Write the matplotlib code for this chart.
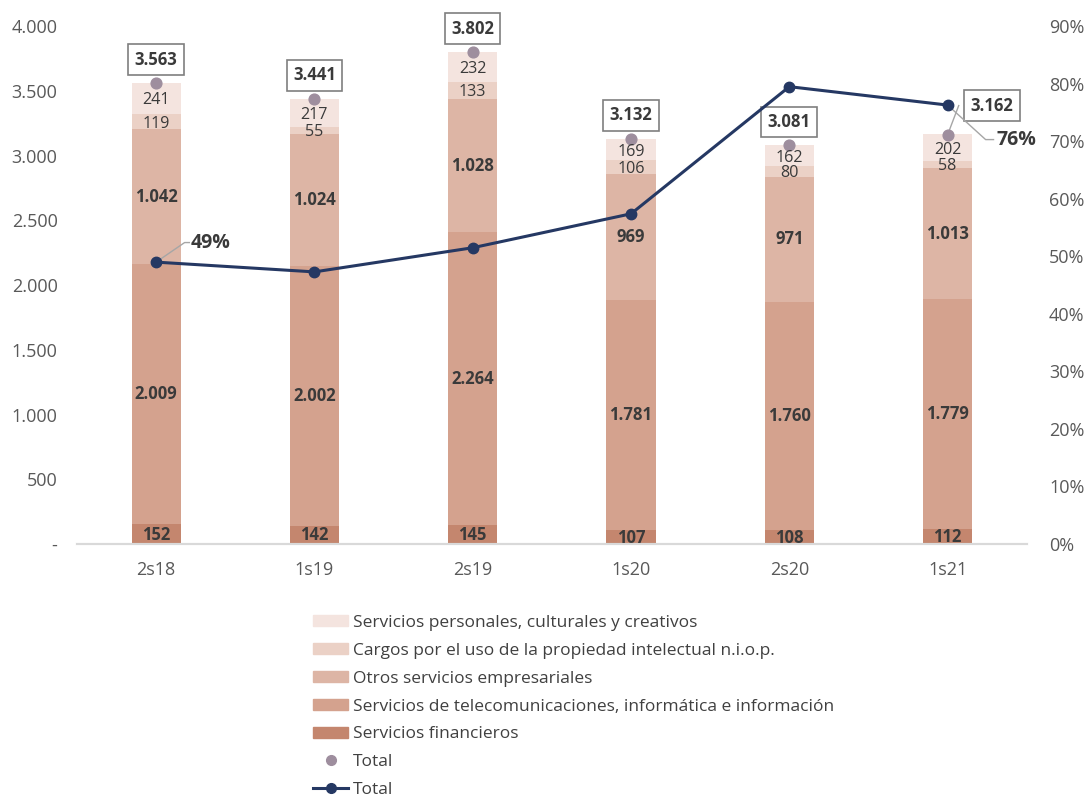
import matplotlib
matplotlib.use("Agg")
import matplotlib.pyplot as plt
from matplotlib.patches import Patch
from matplotlib.lines import Line2D
import numpy as np

plt.rcParams['font.family'] = ['Open Sans', 'DejaVu Sans']

categories = ["2s18", "1s19", "2s19", "1s20", "2s20", "1s21"]
financieros = [152, 142, 145, 107, 108, 112]
telecom = [2009, 2002, 2264, 1781, 1760, 1779]
otros = [1042, 1024, 1028, 969, 971, 1013]
cargos = [119, 55, 133, 106, 80, 58]
personales = [241, 217, 232, 169, 162, 202]
totales = [3563, 3441, 3802, 3132, 3081, 3162]
share = [0.49, 0.473, 0.515, 0.574, 0.795, 0.763]

series = [
    ("Servicios financieros", financieros, "#C4866E", True),
    ("Servicios de telecomunicaciones, informática e información", telecom, "#D4A28E", True),
    ("Otros servicios empresariales", otros, "#DDB5A5", True),
    ("Cargos por el uso de la propiedad intelectual n.i.o.p.", cargos, "#EBD1C6", False),
    ("Servicios personales, culturales y creativos", personales, "#F4E4DF", False),
]

def fmt(v):
    return f"{v:,.0f}".replace(",", ".")

fig = plt.figure(figsize=(10.9, 7.96), dpi=100)
ax = fig.add_axes([0.0706, 0.3166, 0.8714, 0.6504])
ax2 = ax.twinx()

x = np.arange(len(categories))
width = 0.31
bottom = np.zeros(len(categories))
txt_col = "#3A3A3A"
for name, vals, col, bold in series:
    vals = np.array(vals, dtype=float)
    ax.bar(x, vals, width, bottom=bottom, color=col, label=name, zorder=2)
    for xi, b, v in zip(x, bottom, vals):
        yc = b + v / 2
        if name.startswith("Cargos"):
            yc = b + v / 2 - 14
        if name.startswith("Servicios personales"):
            yc = b + v / 2 - 16
        if name == "Servicios financieros":
            yc = b + v / 2 - 5
        ax.text(xi, yc, fmt(v), ha="center", va="center",
                fontsize=12 if bold else 11.6,
                fontweight="bold" if bold else "normal", color=txt_col, zorder=7)
    bottom += vals

# total dots
ax.scatter(x, totales, s=60, color="#9E8E9E", zorder=6)
for i, (xi, t) in enumerate(zip(x, totales)):
    if i == 5:
        bx, by = xi + 0.28, t + 225
        ax.plot([xi, xi + 0.07], [t, by], color="#A6A6A6", lw=1, zorder=4)
    else:
        bx, by = xi, t + 180
    ax.text(bx, by, fmt(t), ha="center", va="center", fontsize=12, fontweight="bold",
            color=txt_col, zorder=7,
            bbox=dict(boxstyle="square,pad=0.38", fc="white", ec="#7F7F7F", lw=1.2))

ax.set_xlim(-0.5, 5.5)
ax.set_ylim(0, 4000)
ax.set_yticks(np.arange(0, 4001, 500))
ax.set_yticklabels(["-"] + [fmt(v) for v in np.arange(500, 4001, 500)])
ax.set_xticks(x)
ax.set_xticklabels(categories)

# line on secondary axis
ax2.plot(x, share, color="#253863", lw=2.2, marker="o", markersize=7.5, zorder=8)
ax2.set_ylim(0, 0.9)
ax2.set_yticks(np.arange(0, 0.91, 0.1))
ax2.set_yticklabels([f"{int(round(v*100))}%" for v in np.arange(0, 0.91, 0.1)])

# leader labels for line
ax2.plot([x[0], x[0] + 0.18, x[0] + 0.21], [share[0], share[0] + 0.034, share[0] + 0.034],
         color="#A6A6A6", lw=1, zorder=7)
ax2.text(x[0] + 0.22, share[0] + 0.034, "49%", ha="left", va="center", fontsize=14,
         fontweight="bold", color=txt_col)
ax2.plot([x[5], x[5] + 0.24, x[5] + 0.29], [share[5], 0.703, 0.703],
         color="#A6A6A6", lw=1, zorder=7)
ax2.text(x[5] + 0.31, 0.703, "76%", ha="left", va="center", fontsize=14,
         fontweight="bold", color=txt_col)

for a in (ax, ax2):
    for s in ("top", "left", "right"):
        a.spines[s].set_visible(False)
    a.spines["bottom"].set_color("#D9D9D9")
    a.spines["bottom"].set_linewidth(1.5)
    a.tick_params(length=0, labelsize=13, colors="#595959")
ax.tick_params(axis="x", pad=12)
ax.tick_params(axis="y", pad=14)
ax2.tick_params(axis="y", pad=16)
ax.set_zorder(0)
ax2.set_zorder(1)

handles = [Patch(color=c, label=n) for n, _, c, _ in series[::-1]]
handles.append(Line2D([], [], ls="none", marker="o", color="#9E8E9E", markersize=7, label="Total"))
handles.append(Line2D([], [], color="#253863", lw=2.2, marker="o", markersize=7, label="Total"))
leg = fig.legend(handles=handles, loc="upper left", bbox_to_anchor=(0.281, 0.236),
                 frameon=False, fontsize=12.5, handlelength=2.0, handleheight=0.6,
                 labelspacing=0.68, handletextpad=0.3, borderaxespad=0)
for t in leg.get_texts():
    t.set_color("#404040")

fig.savefig("out.png", dpi=100)
